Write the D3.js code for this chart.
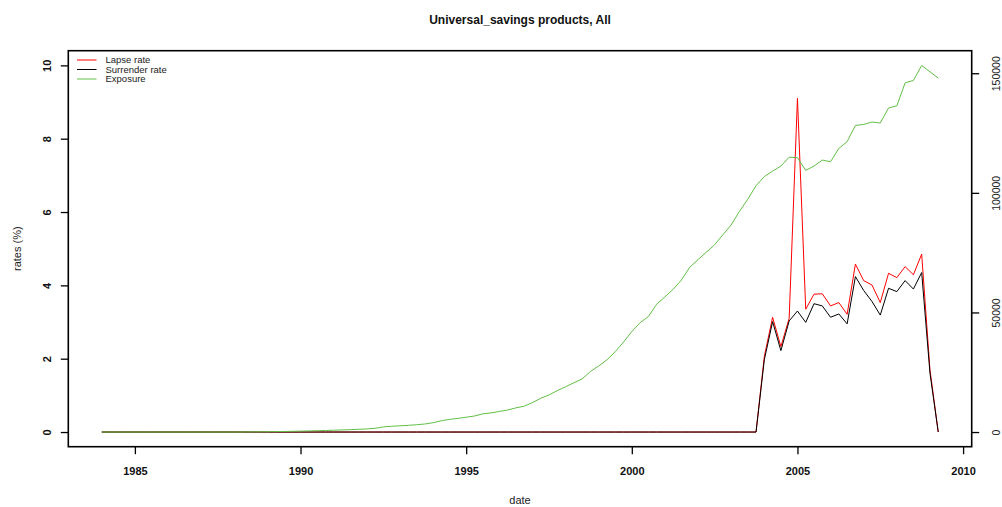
<!DOCTYPE html>
<html><head><meta charset="utf-8">
<script src="https://cdn.jsdelivr.net/npm/d3@7"></script>
<style>body{margin:0;background:#fff}svg{display:block}text{font-family:"Liberation Sans",Arial,sans-serif}</style>
</head><body><svg id="c" width="1002" height="507"></svg>
<script>
const startYear = 1984, stepYear = 0.25;
const exposure = [
  0,0,0,0, 0,0,0,0, 0,0,0,0, 0,0,0,0,
  0,20,50,90, 130,180,240,300, 380,470,560,650, 760,880,1000,1150,
  1300,1550,2150,2400, 2600,2800,3050,3350, 3900,4700,5300,5700,
  6200,6700,7600,8000, 8600,9200,10100,10800, 12300,14100,15500,17300,
  18900,20600,22200,25300, 27600,30200,33600,37600, 42000,45700,48300,53400,
  56500,59700,63600,68900, 72100,75200,78300,82500, 86600,92300,97300,103000,
  106800,109100,111200,114900, 114700,109400,111200,113700, 113000,118600,121400,128200,
  128600,129600,129200,135500, 136400,146000,147000,153300, 150600,148000
];
const zerosBefore = 80; // quarters 1984.0 .. 2003.75 at zero
const lapseTail = [2.06,3.13,2.33,3.10,9.10,3.35,3.76,3.77,3.44,3.53,3.21,4.58,4.13,4.01,3.53,4.33,4.21,4.51,4.29,4.85,1.70,0];
const surrTail  = [1.97,3.01,2.22,3.03,3.30,2.99,3.50,3.44,3.13,3.22,2.95,4.24,3.86,3.56,3.19,3.92,3.83,4.13,3.90,4.35,1.61,0];
const lapse = Array(zerosBefore).fill(0).concat(lapseTail);
const surrender = Array(zerosBefore).fill(0).concat(surrTail);
const dates = exposure.map((_, i) => startYear + i * stepYear);
const xTicks = [1985,1990,1995,2000,2005,2010];
const yTicks = [0,2,4,6,8,10];
const y2Ticks = [0,50000,100000,150000];
const seriesNames = ["Lapse rate","Surrender rate","Exposure"];
const seriesColors = ["#ff0000","#000000","#61bf45"];

const W = 1002, H = 507;
const m = {left: 68.3, right: 30.3, top: 50.7, bottom: 60.3};
const svg = d3.select("#c");
const ext = (lo, hi) => { const r = hi - lo; return [lo - 0.04*r, hi + 0.04*r]; };
const x = d3.scaleLinear().domain(ext(d3.min(dates), d3.max(dates))).range([m.left, W - m.right]);
const y = d3.scaleLinear().domain(ext(0, 10)).range([H - m.bottom, m.top]);
const y2 = d3.scaleLinear().domain(ext(0, d3.max(exposure))).range([H - m.bottom, m.top]);

const g = svg.append("g");
const clip = svg.append("clipPath").attr("id","cp").append("rect")
  .attr("x", m.left).attr("y", m.top).attr("width", W-m.left-m.right).attr("height", H-m.top-m.bottom);

const line1 = d3.line().x((d,i)=>x(dates[i])).y(d=>y(d));
const line2 = d3.line().x((d,i)=>x(dates[i])).y(d=>y2(d));
const plot = g.append("g").attr("clip-path","url(#cp)");
plot.append("path").attr("d", line1(lapse)).attr("fill","none").attr("stroke",seriesColors[0]).attr("stroke-width",1);
plot.append("path").attr("d", line1(surrender)).attr("fill","none").attr("stroke",seriesColors[1]).attr("stroke-width",1);
plot.append("path").attr("d", line2(exposure)).attr("fill","none").attr("stroke",seriesColors[2]).attr("stroke-width",1);

// box
g.append("rect").attr("x", m.left).attr("y", m.top).attr("width", W-m.left-m.right).attr("height", H-m.top-m.bottom)
  .attr("fill","none").attr("stroke","#000").attr("stroke-width",1.6);

// bottom axis
const xa = g.append("g").attr("transform", `translate(0,${H-m.bottom})`)
  .call(d3.axisBottom(x).tickValues(xTicks).tickFormat(d3.format("d")).tickSize(7.5).tickPadding(13).tickSizeOuter(0));
xa.select(".domain").remove();
xa.selectAll("line").attr("stroke","#000").attr("stroke-width",1.3);
xa.selectAll("text").attr("font-size","11px").attr("font-weight","bold").attr("fill","#111").attr("font-family",'"Liberation Sans",Arial,sans-serif');

// left axis
const ya = g.append("g").attr("transform", `translate(${m.left},0)`)
  .call(d3.axisLeft(y).tickValues(yTicks).tickFormat(d3.format("d")).tickSize(7.5).tickSizeOuter(0));
ya.select(".domain").remove();
ya.selectAll("line").attr("stroke","#000").attr("stroke-width",1.3);
ya.selectAll("text").attr("x",null).attr("dy",null).attr("text-anchor","middle")
  .attr("transform","translate(-17,0) rotate(-90)").attr("font-size","11px").attr("font-weight","bold").attr("fill","#111")
  .attr("font-family",'"Liberation Sans",Arial,sans-serif');

// right axis
const y2a = g.append("g").attr("transform", `translate(${W-m.right},0)`)
  .call(d3.axisRight(y2).tickValues(y2Ticks).tickFormat(d3.format("d")).tickSize(7.5).tickSizeOuter(0));
y2a.select(".domain").remove();
y2a.selectAll("line").attr("stroke","#000").attr("stroke-width",1.3);
y2a.selectAll("text").attr("x",null).attr("dy",null).attr("text-anchor","middle")
  .attr("transform","translate(28,0) rotate(-90)").attr("font-size","10.5px").attr("fill","#222")
  .attr("font-family",'"Liberation Sans",Arial,sans-serif');

// titles
svg.append("text").attr("x",(m.left + W - m.right)/2).attr("y",24).attr("text-anchor","middle")
  .attr("font-size","12px").attr("font-weight","bold").attr("fill","#111").text("Universal_savings products, All");
svg.append("text").attr("x",(m.left + W - m.right)/2).attr("y",504).attr("text-anchor","middle")
  .attr("font-size","11px").attr("fill","#222").text("date");
svg.append("text").attr("transform",`translate(21,${(m.top + H - m.bottom)/2}) rotate(-90)`).attr("text-anchor","middle")
  .attr("font-size","11px").attr("fill","#222").text("rates (%)");

// legend
const lg = svg.append("g").attr("transform","translate(77,60)");
seriesNames.forEach((n,i)=>{
  lg.append("line").attr("x1",0).attr("x2",19.5).attr("y1",i*9.5).attr("y2",i*9.5).attr("stroke",seriesColors[i]).attr("stroke-width",1);
  lg.append("text").attr("x",28.5).attr("y",i*9.5+3.3).attr("font-size","9.5px").attr("fill","#222").text(n);
});
</script></body></html>
